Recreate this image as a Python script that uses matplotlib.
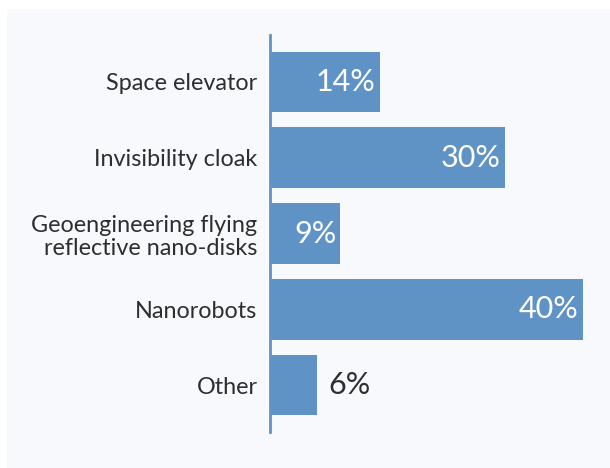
import matplotlib
matplotlib.use("Agg")
import matplotlib.pyplot as plt
from matplotlib.patches import Rectangle

# survey answers, top to bottom
categories = [
    "Space elevator",
    "Invisibility cloak",
    "Geoengineering flying\nreflective nano-disks",
    "Nanorobots",
    "Other",
]
shares = [14, 30, 9, 40, 6]

BLUE = "#6093C5"
TEXT = "#2E2E2E"
PANEL = "#F7F9FC"

plt.rcParams["font.family"] = ["Lato", "DejaVu Sans"]

fig = plt.figure(figsize=(6.10, 4.68), dpi=100)
fig.patch.set_facecolor("white")
# light panel behind the chart
fig.add_artist(Rectangle((7 / 610, 0.5 / 468), 1, 1 - 9.5 / 468,
                         transform=fig.transFigure, facecolor=PANEL,
                         edgecolor="none", zorder=-5))

ax = fig.add_axes([270 / 610, 1 - 432 / 468, (583 - 270) / 610, (432 - 35) / 468])
ax.set_facecolor("none")
ax.set_zorder(2)

y = range(len(categories))
ax.barh(y, shares, height=0.8, color=BLUE, zorder=2)

for i, v in zip(y, shares):
    if v > 8:
        ax.annotate(f"{v}%", (v, i), xytext=(-3, 0), textcoords="offset points",
                    ha="right", va="center", color="white", fontsize=22)
    else:
        ax.annotate(f"{v}%", (v, i), xytext=(8, 0), textcoords="offset points",
                    ha="left", va="center", color=TEXT, fontsize=22)

ax.set_xlim(0, 40)
ax.set_ylim(len(categories) - 1 + 0.62, -0.62)
ax.set_yticks(list(y))
ax.set_yticklabels(categories, fontsize=16.8, color=TEXT, linespacing=1.12)
ax.tick_params(axis="y", length=0, pad=9)
ax.set_xticks([])

for side in ["top", "right", "bottom"]:
    ax.spines[side].set_visible(False)
ax.spines["left"].set_color(BLUE)
ax.spines["left"].set_linewidth(2)

fig.savefig("out.png", dpi=100, facecolor="white")
